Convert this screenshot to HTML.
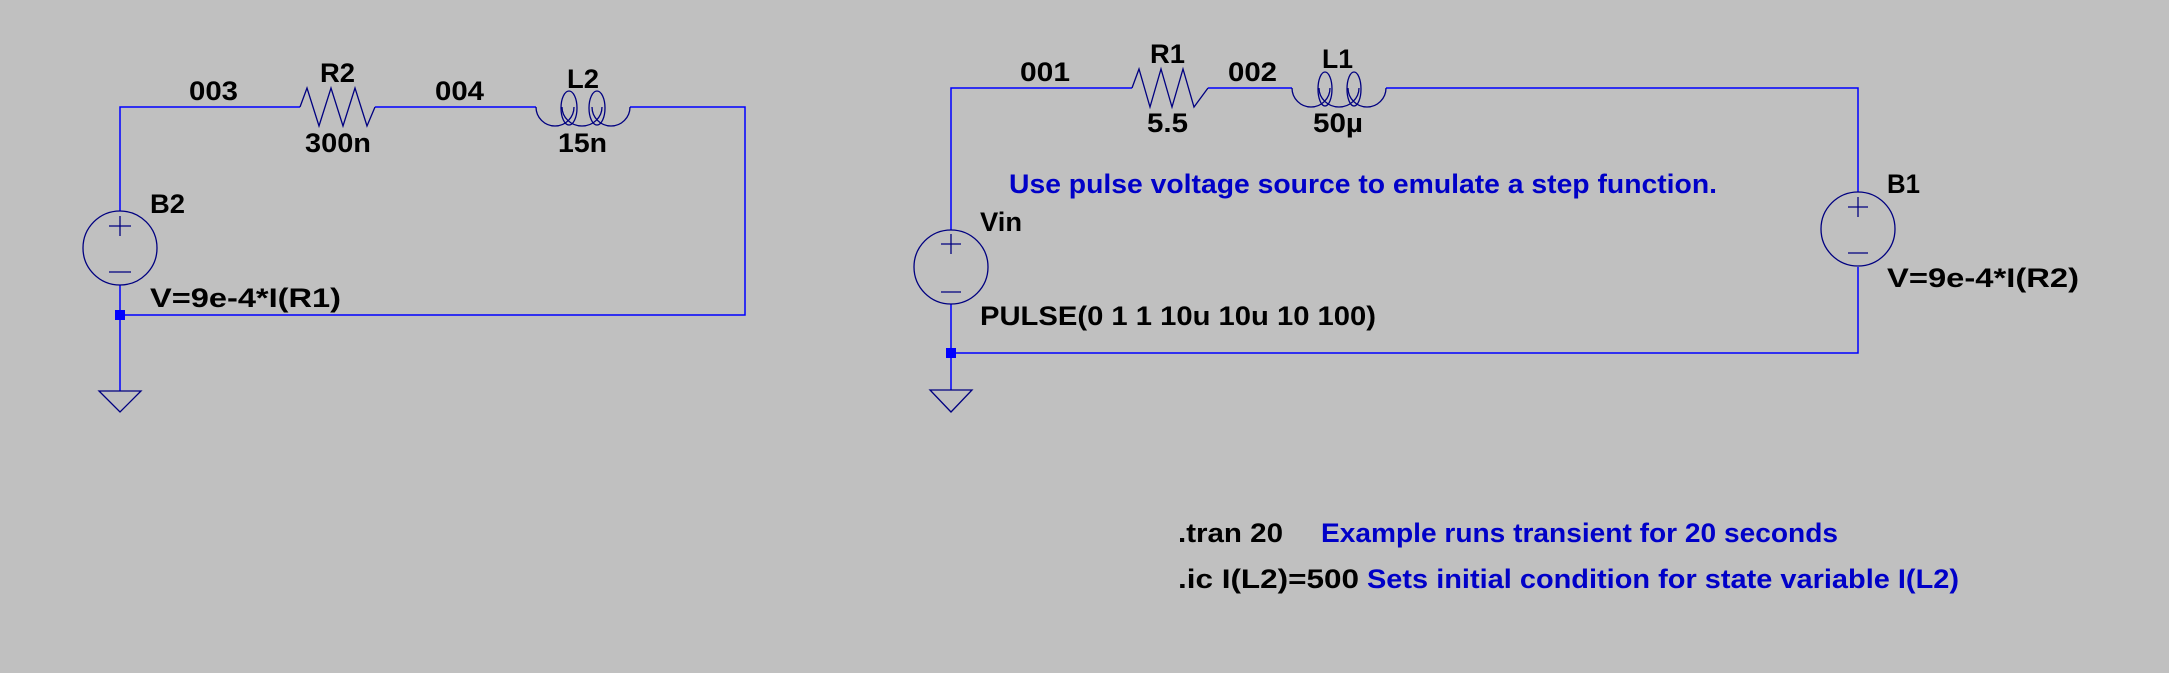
<!DOCTYPE html>
<html><head><meta charset="utf-8"><style>
html,body{margin:0;padding:0;background:#c0c0c0;}
svg{display:block;}
text{font-family:"Liberation Sans",sans-serif;font-weight:bold;font-size:27px;fill:#000;}
.c{fill:#0000c8;}
</style></head><body>
<svg width="2169" height="673" viewBox="0 0 2169 673" xmlns="http://www.w3.org/2000/svg">
<rect width="2169" height="673" fill="#c0c0c0"/>
<g stroke="#0000ff" stroke-width="1.5" fill="none">
<polyline points="120,211 120,107 300,107"/>
<line x1="375" y1="107" x2="536" y2="107"/>
<polyline points="630,107 745,107 745,315 120,315"/>
<line x1="120" y1="285" x2="120" y2="391"/>
<polyline points="951,230 951,88 1132,88"/>
<line x1="1208" y1="88" x2="1292" y2="88"/>
<polyline points="1386,88 1858,88 1858,192"/>
<polyline points="1858,267 1858,353 951,353"/>
<line x1="951" y1="304" x2="951" y2="390"/>
</g>
<g fill="#0000ff">
<rect x="115" y="310" width="10" height="10"/>
<rect x="946" y="348" width="10" height="10"/>
</g>
<g stroke="#000080" stroke-width="1.3" fill="none">
<polyline points="300,107 307,88 319,126 331,88 343,126 355,88 367,126 375,107"/>
<path d="M536,107 A19,19 0 0 0 574,107"/>
<path d="M562,107 A20,19 0 0 0 602,107"/>
<path d="M592,107 A19,19 0 0 0 630,107"/>
<ellipse cx="569" cy="108" rx="8" ry="17"/>
<ellipse cx="597" cy="108" rx="8" ry="17"/>
<ellipse cx="120" cy="248" rx="37" ry="37"/>
<line x1="109" y1="226" x2="131" y2="226"/><line x1="120" y1="216" x2="120" y2="236"/>
<line x1="109" y1="272" x2="131" y2="272"/>
<polygon points="99,391 141,391 120,412"/>
<polyline points="1132,88 1139,69 1150,107 1161,69 1172,107 1183,69 1194,107 1208,88"/>
<path d="M1292,88 A19,19 0 0 0 1330,88"/>
<path d="M1319,88 A20,19 0 0 0 1359,88"/>
<path d="M1348,88 A19,19 0 0 0 1386,88"/>
<ellipse cx="1325" cy="89" rx="7" ry="17"/>
<ellipse cx="1354" cy="89" rx="7" ry="17"/>
<ellipse cx="951" cy="267" rx="37" ry="37"/>
<line x1="941" y1="244" x2="961" y2="244"/><line x1="951" y1="234" x2="951" y2="254"/>
<line x1="941" y1="292" x2="961" y2="292"/>
<ellipse cx="1858" cy="229" rx="37" ry="37"/>
<line x1="1848" y1="207" x2="1868" y2="207"/><line x1="1858" y1="197" x2="1858" y2="217"/>
<line x1="1848" y1="253" x2="1868" y2="253"/>
<polygon points="930,390 972,390 951,412"/>
</g>
<g>
<text x="320" y="82" textLength="35" lengthAdjust="spacingAndGlyphs">R2</text>
<text x="189" y="100" textLength="49" lengthAdjust="spacingAndGlyphs">003</text>
<text x="305" y="152" textLength="66" lengthAdjust="spacingAndGlyphs">300n</text>
<text x="435" y="100" textLength="49" lengthAdjust="spacingAndGlyphs">004</text>
<text x="567" y="88" textLength="32" lengthAdjust="spacingAndGlyphs">L2</text>
<text x="558" y="152" textLength="49" lengthAdjust="spacingAndGlyphs">15n</text>
<text x="150" y="213" textLength="35" lengthAdjust="spacingAndGlyphs">B2</text>
<text x="150" y="307" textLength="191" lengthAdjust="spacingAndGlyphs">V=9e-4*I(R1)</text>

<text x="1150" y="63" textLength="35" lengthAdjust="spacingAndGlyphs">R1</text>
<text x="1020" y="81" textLength="50" lengthAdjust="spacingAndGlyphs">001</text>
<text x="1228" y="81" textLength="49" lengthAdjust="spacingAndGlyphs">002</text>
<text x="1322" y="68" textLength="31" lengthAdjust="spacingAndGlyphs">L1</text>
<text x="1147" y="132" textLength="41" lengthAdjust="spacingAndGlyphs">5.5</text>
<text x="1313" y="132" textLength="50" lengthAdjust="spacingAndGlyphs">50µ</text>
<text class="c" x="1009" y="193" textLength="708" lengthAdjust="spacingAndGlyphs">Use pulse voltage source to emulate a step function.</text>
<text x="980" y="231" textLength="42" lengthAdjust="spacingAndGlyphs">Vin</text>
<text x="980" y="325" textLength="396" lengthAdjust="spacingAndGlyphs">PULSE(0 1 1 10u 10u 10 100)</text>
<text x="1887" y="193" textLength="33" lengthAdjust="spacingAndGlyphs">B1</text>
<text x="1887" y="287" textLength="192" lengthAdjust="spacingAndGlyphs">V=9e-4*I(R2)</text>

<text x="1178" y="542" textLength="105" lengthAdjust="spacingAndGlyphs">.tran 20</text>
<text class="c" x="1321" y="542" textLength="517" lengthAdjust="spacingAndGlyphs">Example runs transient for 20 seconds</text>
<text x="1178" y="588" textLength="181" lengthAdjust="spacingAndGlyphs">.ic I(L2)=500</text>
<text class="c" x="1367" y="588" textLength="592" lengthAdjust="spacingAndGlyphs">Sets initial condition for state variable I(L2)</text>
</g>
</svg>
</body></html>
